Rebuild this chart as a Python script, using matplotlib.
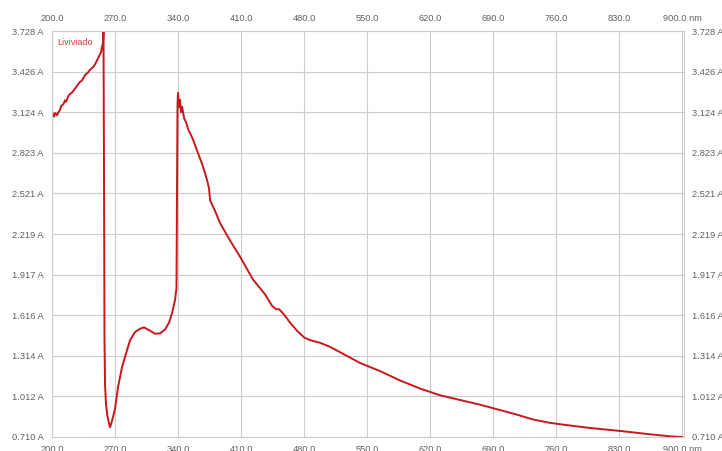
from matplotlib import pyplot as plt
import numpy as np

# wavelength (nm) and absorbance (A)
wl = [200.0, 201.1, 202.2, 203.3, 204.4, 205.6, 206.7, 208.9, 210.0, 212.2,
      214.4, 215.6, 217.8, 220.0, 222.2, 225.6, 228.9, 231.1, 233.3, 236.7,
      240.0, 242.2, 245.6, 247.8, 250.0, 252.2, 254.4, 255.6, 256.7, 257.2,
      257.8, 258.3, 258.9, 260.0, 261.7, 264.4, 266.7, 270.0, 273.3, 277.8,
      282.2, 286.7, 292.2, 297.8, 302.2, 308.9, 314.4, 320.0, 325.6, 330.0,
      333.3, 336.7, 338.3, 338.9, 339.4, 340.0,
      341.1, 342.2, 343.3, 344.4, 346.7, 348.9, 351.1, 353.3, 356.7, 360.0,
      363.3, 366.7, 370.0, 372.2, 374.4, 375.6, 381.1, 386.7, 397.8, 408.9,
      423.3, 436.7, 444.4, 448.9, 452.2, 457.8, 464.4, 472.2, 480.0,
      486.7, 497.8, 508.9, 525.6, 542.2, 564.4, 586.7, 608.9, 631.1, 653.3,
      675.6, 697.8, 714.4, 734.4, 753.3, 770.0, 797.8, 831.1, 864.4, 886.7,
      900.0]
absb = [3.13, 3.10, 3.09, 3.12, 3.11, 3.10, 3.12, 3.14, 3.17, 3.18,
        3.21, 3.20, 3.24, 3.26, 3.27, 3.30, 3.33, 3.35, 3.36, 3.40,
        3.42, 3.44, 3.46, 3.48, 3.51, 3.54, 3.57, 3.61, 3.64, 3.728,
        2.61, 1.45, 1.10, 0.95, 0.86, 0.78, 0.83, 0.92, 1.08, 1.23,
        1.33, 1.43, 1.49, 1.515, 1.525, 1.50, 1.478, 1.48, 1.51, 1.56,
        1.63, 1.73, 1.82, 2.60, 3.18, 3.27,
        3.16, 3.22, 3.12, 3.17, 3.08, 3.05, 3.00, 2.97, 2.92, 2.86,
        2.80, 2.74, 2.67, 2.62, 2.56, 2.47, 2.39, 2.30, 2.17, 2.05,
        1.88, 1.77, 1.685, 1.66, 1.66, 1.62, 1.56, 1.50, 1.45,
        1.43, 1.41, 1.38, 1.32, 1.26, 1.20, 1.13, 1.07, 1.02, 0.985,
        0.95, 0.91, 0.88, 0.84, 0.815, 0.80, 0.777, 0.755, 0.73, 0.715,
        0.71]

x_ticks = [200, 270, 340, 410, 480, 550, 620, 690, 760, 830, 900]
x_labels = ['%.1f' % v for v in x_ticks]
x_labels[-1] = '900.0 nm'
y_ticks = [0.710, 1.012, 1.314, 1.616, 1.917, 2.219, 2.521, 2.823, 3.124, 3.426, 3.728]
y_labels = ['%.3f A' % v for v in y_ticks]

plt.rcParams['font.family'] = ['Liberation Sans', 'DejaVu Sans']

fig = plt.figure(figsize=(7.22, 4.51), dpi=100)
ax = fig.add_axes([52/722, 14/451, 632/722, 406/451])
ax.plot(wl, absb, color='#c8181c', lw=1.4, solid_joinstyle='miter')
ax.set_xlim(200, 902)
ax.set_ylim(0.710, 3.728)
ax.set_xticks(x_ticks)
ax.set_xticklabels(x_labels)
ax.set_yticks(y_ticks)
ax.set_yticklabels(y_labels)
ax.grid(True, color='#cccccc', lw=0.8)
ax.tick_params(length=0, labelsize=6.7, labelcolor='#606060', pad=6,
               top=True, labeltop=True, right=True, labelright=True)
for s in ax.spines.values():
    s.set_color('#cccccc')
ax.text(0.008, 0.982, 'Liviviado', transform=ax.transAxes, color='#d83a3a',
        fontsize=6.5, va='top', ha='left')

plt.savefig('out.png', dpi=100)
